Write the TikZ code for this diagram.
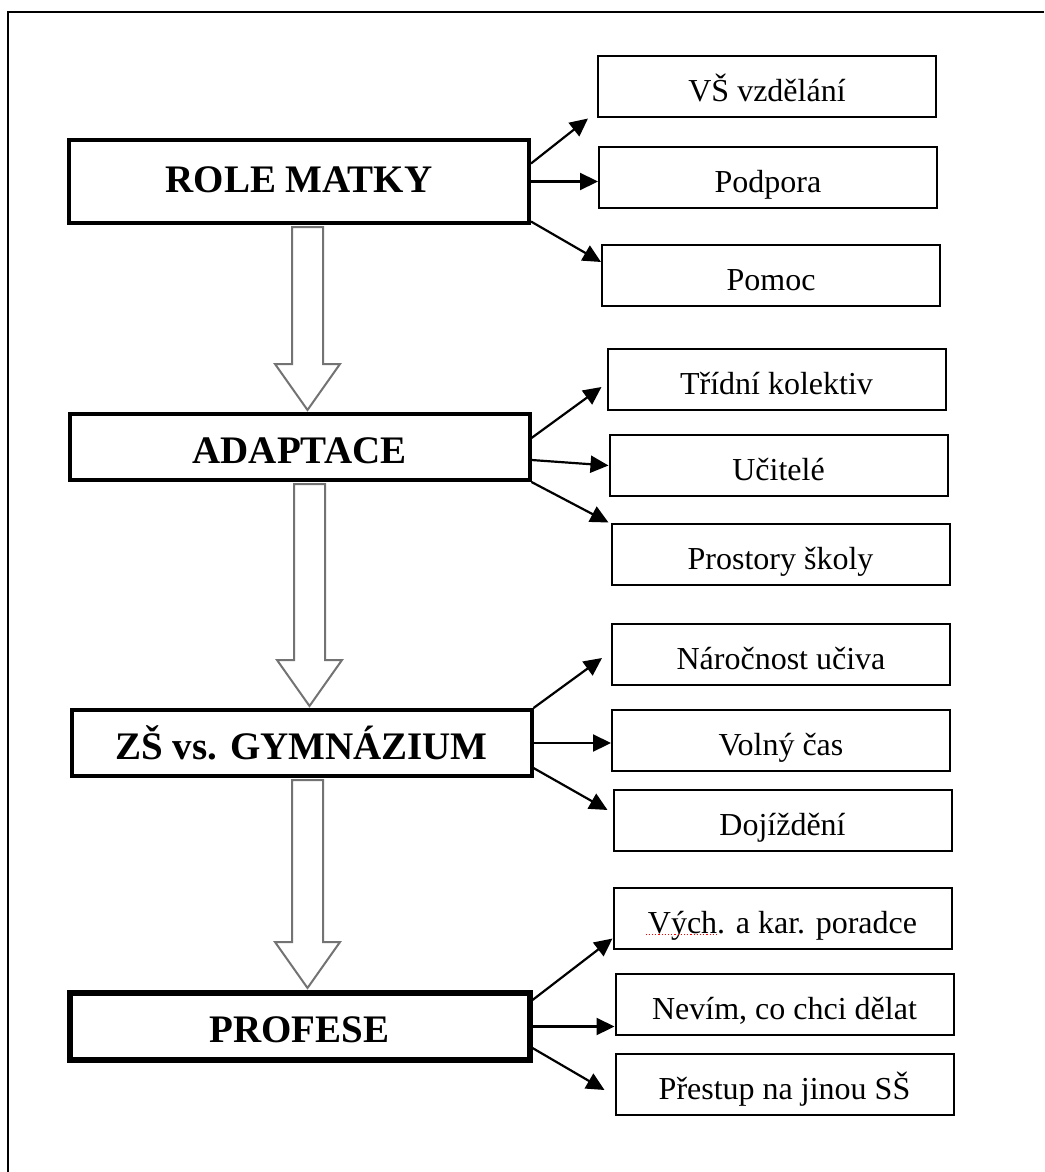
\documentclass[tikz,border=0pt]{standalone}
\usepackage{fontspec}
\setmainfont{Liberation Serif}
\usetikzlibrary{arrows.meta,calc}

\begin{document}
\begin{tikzpicture}
[
x=0.5pt, y=-0.5pt,
mainbox/.style={draw, line width=2pt, minimum width=230pt, minimum height=33pt, inner sep=0pt, text height=16pt, text depth=0pt, font=\fontsize{19.5}{20}\selectfont\bfseries},
itembox/.style={draw, line width=1pt, minimum width=169pt, minimum height=30.5pt, inner sep=0pt, text height=15pt, text depth=0pt, font=\fontsize{16}{18}\selectfont},
link/.style={-{Triangle[length=9pt,width=8.5pt]}, line width=1.1pt},
hollow/.style={draw=black!55, fill=white, line width=1pt, line join=miter}
]

\useasboundingbox (0,0) rectangle (1044,1172);
\draw[line width=1pt] (8,1172) -- (8,12) -- (1044,12);

\node[mainbox, minimum height=41.5pt, text height=10.5pt] (role) at (299,181.5) {ROLE MATKY};
\node[mainbox] (adapt) at (299.5,447) {ADAPTACE};
\node[mainbox] (zs) at (301.5,743) {ZŠ vs. GYMNÁZIUM};
\node[mainbox, line width=3pt, minimum height=33.5pt] (prof) at (299.5,1026.5) {PROFESE};

\node[itembox] (vs) at (767,87) {VŠ vzdělání};
\node[itembox] (podpora) at (768,177.5) {Podpora};
\node[itembox] (pomoc) at (771,275.5) {Pomoc};
\node[itembox] (tridni) at (776.5,379) {Třídní kolektiv};
\node[itembox] (ucitele) at (778.5,465.5) {Učitelé};
\node[itembox] (prostory) at (780.5,554) {Prostory školy};
\node[itembox] (narocnost) at (781,654) {Náročnost učiva};
\node[itembox] (volny) at (781,740) {Volný čas};
\node[itembox] (dojizdeni) at (782.5,820) {Dojíždění};
\node[itembox] (vych) at (782.5,918) {Vých. a kar. poradce};
\node[itembox] (nevim) at (784.5,1004.5) {Nevím, co chci dělat};
\node[itembox] (prestup) at (784.5,1084.5) {Přestup na jinou SŠ};

\foreach \a/\b in {role/adapt, adapt/zs, zs/prof}
  \draw[hollow] ($(\a.south -| \b.north)+(-7.5,2)$) -- ($(\b.north)+(-7.5,-48)$) -- ($(\b.north)+(-24.5,-48)$) -- ($(\b.north)+(8,-2)$) -- ($(\b.north)+(40.5,-48)$) -- ($(\b.north)+(23.5,-48)$) -- ($(\a.south -| \b.north)+(23.5,2)$) -- cycle;

\draw[link] ([yshift=9pt]role.east) -- ([xshift=-4.5pt]vs.south west);
\draw[link] (role.east) -- (role.east -| podpora.west);
\draw[link] ([yshift=-20pt]role.east) -- ([yshift=6.75pt]pomoc.west);

\draw[link] ([yshift=4.5pt]adapt.east) -- ([xshift=-2.5pt,yshift=-4pt]tridni.west);
\draw[link] ([yshift=-6.5pt]adapt.east) -- (ucitele.west);
\draw[link] (adapt.south east) -- ([xshift=-1pt]prostory.north west);

\draw[link] (zs.north east) -- ([xshift=-4.5pt,yshift=-2pt]narocnost.west);
\draw[link] (zs.east) -- (zs.east -| volny.west);
\draw[link] ([yshift=-12.5pt]zs.east) -- ([xshift=-2.5pt,yshift=5pt]dojizdeni.west);

\draw[link] ([yshift=13.25pt]prof.east) -- ([yshift=5.5pt]vych.south west);
\draw[link] (prof.east) -- (prof.east -| nevim.west);
\draw[link] ([yshift=-10.75pt]prof.east) -- ([xshift=-5pt,yshift=-2.75pt]prestup.west);

\draw[red, densely dotted, line width=0.6pt] ($(vych.south west)+(33,-15)$) -- ++(73,0);
\end{tikzpicture}
\end{document}
